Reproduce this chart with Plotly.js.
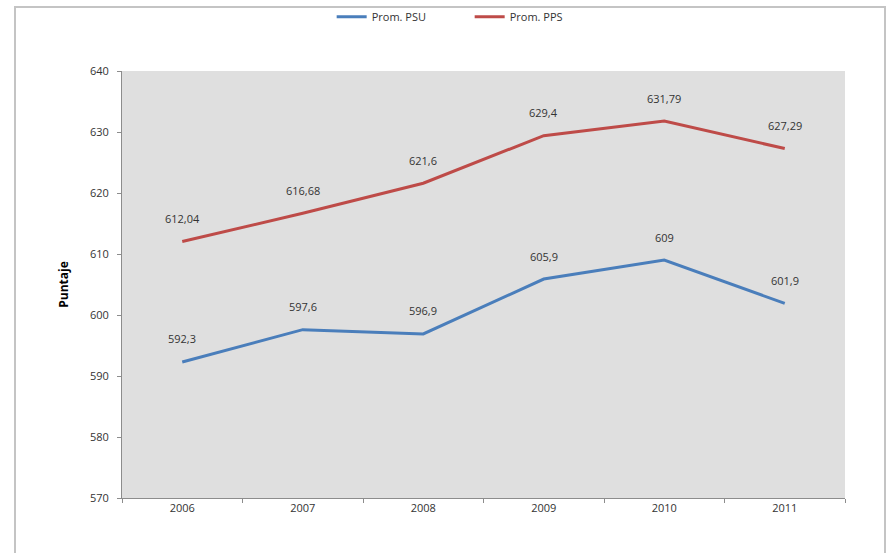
<!DOCTYPE html>
<html>
<head>
<meta charset="utf-8">
<script src="https://cdn.plot.ly/plotly-3.0.1.min.js"></script>
<style>
html,body{margin:0;padding:0;background:#fff;}
#wrap{position:relative;width:890px;height:553px;}
#chart{width:890px;height:553px;}
#frame{position:absolute;left:14px;top:6px;width:872px;height:560px;border:2px solid #c4c4c4;pointer-events:none;box-sizing:border-box;}
</style>
</head>
<body>
<div id="wrap"><div id="chart"></div><div id="frame"></div></div>
<script>
const years = ["2006","2007","2008","2009","2010","2011"];
const psu = [592.3, 597.6, 596.9, 605.9, 609, 601.9];
const pps = [612.04, 616.68, 621.6, 629.4, 631.79, 627.29];
const psuLabels = ["592,3","597,6","596,9","605,9","609","601,9"];
const ppsLabels = ["612,04","616,68","621,6","629,4","631,79","627,29"];
const yTicks = [570,580,590,600,610,620,630,640];

const font = "Open Sans, Liberation Sans, sans-serif";
const traces = [
  {x: years, y: psu, name: "Prom. PSU", mode: "lines", line: {color: "#4a7ebb", width: 3}},
  {x: years, y: pps, name: "Prom. PPS", mode: "lines", line: {color: "#be4b48", width: 3}}
];
const annotations = [];
years.forEach((yr, i) => {
  annotations.push({x: i, y: psu[i], text: psuLabels[i], showarrow: false, yshift: 23, font: {family: font, size: 11, color: "#333333"}});
  annotations.push({x: i, y: pps[i], text: ppsLabels[i], showarrow: false, yshift: 23, font: {family: font, size: 11, color: "#333333"}});
});
const layout = {
  width: 890, height: 553,
  margin: {l: 122, r: 45, t: 71, b: 55, autoexpand: false},
  paper_bgcolor: "#ffffff",
  plot_bgcolor: "#dfdfdf",
  font: {family: font, size: 11, color: "#404040"},
  showlegend: true,
  legend: {orientation: "h", x: 0.29, xanchor: "left", y: 1.127, yanchor: "middle", entrywidth: 93, font: {family: font, size: 11, color: "#333333"}, bgcolor: "rgba(0,0,0,0)"},
  xaxis: {type: "category", range: [-0.5, 5.5], tickson: "boundaries", ticks: "outside", ticklen: 4, tickcolor: "#8c8c8c", showline: true, linecolor: "#8c8c8c", linewidth: 1, showgrid: false, zeroline: false, tickangle: 0, tickfont: {family: font, size: 11, color: "#333333"}},
  yaxis: {range: [570, 640], tickmode: "array", tickvals: yTicks, ticktext: yTicks.map(String), ticks: "outside", ticklen: 4, tickcolor: "#8c8c8c", showline: true, linecolor: "#8c8c8c", linewidth: 1, showgrid: false, zeroline: false, ticklabelstandoff: 6, tickfont: {family: font, size: 11, color: "#333333"},
    title: {text: "Puntaje", standoff: 18, font: {family: font, size: 12, color: "#000000", weight: "bold"}}},
  annotations: annotations
};
Plotly.newPlot("chart", traces, layout, {displayModeBar: false, staticPlot: true});
</script>
</body>
</html>
